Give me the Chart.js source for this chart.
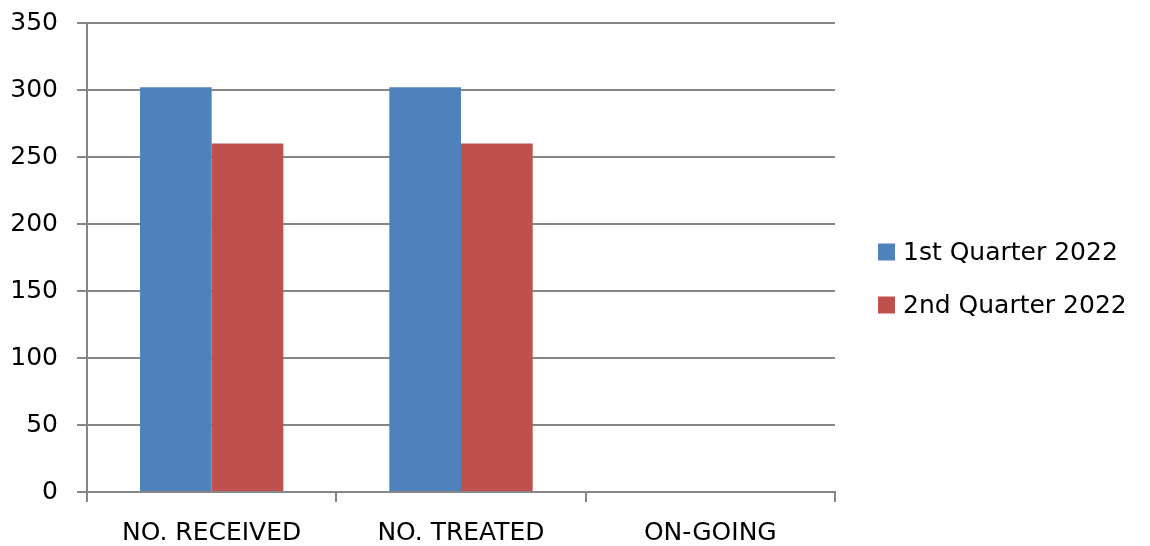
<!DOCTYPE html>
<html>
<head>
<meta charset="utf-8">
<script src="https://cdn.jsdelivr.net/npm/chart.js@4/dist/chart.umd.min.js"></script>
<style>
  html, body { margin: 0; padding: 0; background: #ffffff; }
  #wrap { width: 1150px; height: 546px; position: relative; }
</style>
</head>
<body>
<div id="wrap"><canvas id="c" width="1150" height="546"></canvas></div>
<script>
const categories = ["NO. RECEIVED", "NO. TREATED", "ON-GOING"];
const seriesLabels = ["1st Quarter 2022", "2nd Quarter 2022"];
const q1Values = [302, 302, 0];
const q2Values = [260, 260, 0];
const yMin = 0, yMax = 350, yStep = 50;

const seriesColors = ["#4F81BD", "#C0504D"];
const gridColor = "#868686";
const labelFont = "'Comic Sans MS', 'DejaVu Sans', sans-serif";
const tickFont = "'DejaVu Sans', Verdana, sans-serif";

const legendPlugin = {
  id: 'customLegend',
  afterDraw(chart) {
    const ctx = chart.ctx;
    ctx.save();
    ctx.font = "25px " + labelFont;
    ctx.textBaseline = 'middle';
    ctx.textAlign = 'left';
    chart.data.datasets.forEach((ds, i) => {
      const cy = 252 + i * 53;
      ctx.fillStyle = ds.backgroundColor;
      ctx.fillRect(878, cy - 8.5, 17, 17);
      ctx.fillStyle = '#000000';
      ctx.fillText(ds.label, 903, cy + 1);
    });
    ctx.restore();
  }
};

new Chart(document.getElementById('c'), {
  type: 'bar',
  data: {
    labels: categories,
    datasets: [
      { label: seriesLabels[0], data: q1Values, backgroundColor: seriesColors[0], borderWidth: 0 },
      { label: seriesLabels[1], data: q2Values, backgroundColor: seriesColors[1], borderWidth: 0 }
    ]
  },
  options: {
    responsive: false,
    animation: false,
    devicePixelRatio: 1,
    layout: { padding: { top: 23, right: 315, bottom: 0, left: 0 } },
    plugins: {
      legend: { display: false },
      tooltip: { enabled: false }
    },
    datasets: {
      bar: { categoryPercentage: 0.575, barPercentage: 1.0 }
    },
    scales: {
      x: {
        offset: true,
        grid: {
          offset: true,
          drawOnChartArea: false,
          drawTicks: true,
          tickLength: 10,
          color: gridColor,
          lineWidth: 2
        },
        border: { display: true, color: gridColor, width: 2 },
        ticks: {
          color: '#000000',
          font: { family: labelFont, size: 25 },
          padding: 16,
          maxRotation: 0,
          autoSkip: false
        },
        afterFit(scale) { scale.height = 54; scale.paddingLeft = 0; scale.paddingRight = 0; }
      },
      y: {
        min: yMin,
        max: yMax,
        grid: {
          color: gridColor,
          lineWidth: 2,
          drawTicks: true,
          tickLength: 10
        },
        border: { display: true, color: gridColor, width: 2 },
        ticks: {
          stepSize: yStep,
          color: '#000000',
          font: { family: tickFont, size: 25 },
          padding: 19
        },
        afterFit(scale) { scale.width = 87; scale.paddingTop = 0; scale.paddingBottom = 0; }
      }
    }
  },
  plugins: [legendPlugin]
});
</script>
</body>
</html>
